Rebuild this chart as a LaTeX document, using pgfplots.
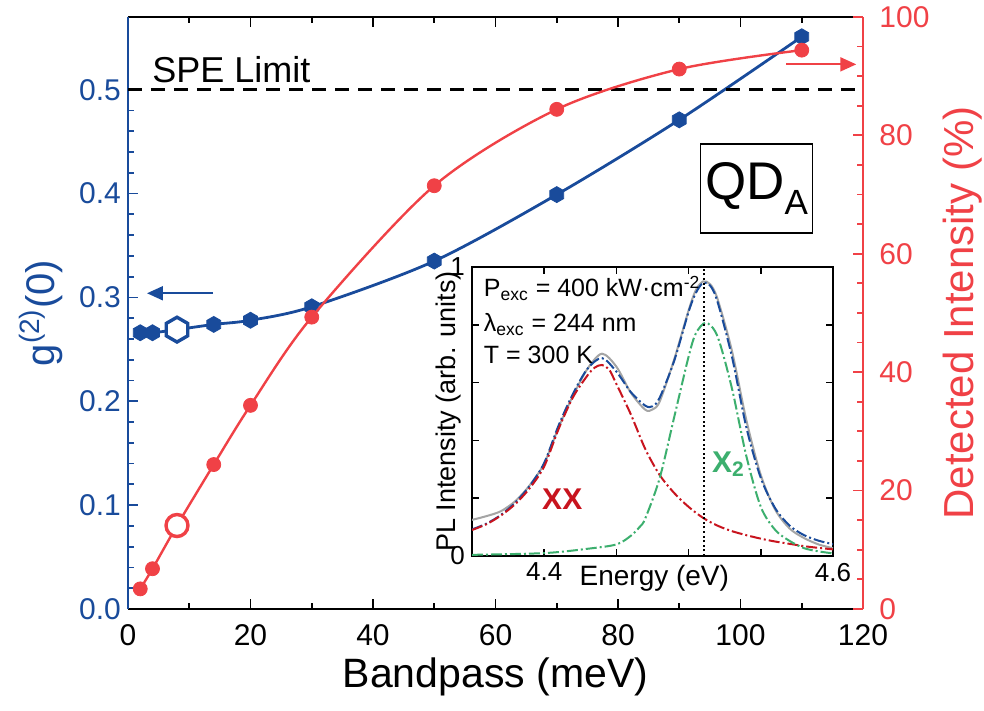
\documentclass[border=0pt]{standalone}
\usepackage{fontspec}
\setmainfont{Liberation Sans}
\usepackage{pgfplots}
\pgfplotsset{compat=1.18}
\usetikzlibrary{arrows.meta}

\definecolor{gblue}{RGB}{25,75,155}
\definecolor{ired}{RGB}{240,65,70}
\definecolor{xgreen}{RGB}{60,175,110}
\definecolor{xxred}{RGB}{200,20,30}
\definecolor{pgray}{RGB}{165,165,165}

% filled hexagon mark, pointed top and bottom
\pgfdeclareplotmark{hexagon}{%
  \pgfpathmoveto{\pgfqpointpolar{90}{\pgfplotmarksize}}%
  \pgfpathlineto{\pgfqpointpolar{150}{\pgfplotmarksize}}%
  \pgfpathlineto{\pgfqpointpolar{210}{\pgfplotmarksize}}%
  \pgfpathlineto{\pgfqpointpolar{270}{\pgfplotmarksize}}%
  \pgfpathlineto{\pgfqpointpolar{330}{\pgfplotmarksize}}%
  \pgfpathlineto{\pgfqpointpolar{30}{\pgfplotmarksize}}%
  \pgfpathclose
  \pgfusepathqfillstroke}

\newcommand{\fs}[1]{\fontsize{#1}{#1}\selectfont}

% PL spectrum and its two-peak fit
\pgfplotstableread{
E     I
4.35  0.125
4.36  0.138
4.37  0.155
4.38  0.190
4.39  0.245
4.40  0.320
4.41  0.445
4.42  0.555
4.43  0.648
4.44  0.700
4.45  0.655
4.46  0.565
4.47  0.506
4.475 0.507
4.48  0.535
4.49  0.680
4.50  0.850
4.505 0.920
4.51  0.950
4.515 0.940
4.52  0.890
4.53  0.710
4.54  0.470
4.55  0.280
4.56  0.160
4.57  0.095
4.58  0.062
4.59  0.040
4.60  0.027
}\measured

\pgfplotstableread{
E     I
4.35  0.092
4.36  0.112
4.37  0.142
4.38  0.185
4.39  0.243
4.40  0.322
4.41  0.452
4.42  0.562
4.43  0.648
4.44  0.685
4.45  0.638
4.46  0.567
4.47  0.520
4.475 0.518
4.48  0.548
4.49  0.675
4.50  0.845
4.505 0.910
4.51  0.945
4.515 0.935
4.52  0.880
4.53  0.690
4.54  0.445
4.55  0.270
4.56  0.165
4.57  0.105
4.58  0.072
4.59  0.053
4.60  0.041
}\fitsum

\pgfplotstableread{
E     I
4.35  0.090
4.36  0.110
4.37  0.140
4.38  0.180
4.39  0.235
4.40  0.310
4.41  0.440
4.42  0.550
4.43  0.625
4.435 0.652
4.44  0.661
4.445 0.645
4.45  0.595
4.46  0.490
4.47  0.370
4.48  0.280
4.49  0.218
4.50  0.170
4.51  0.132
4.52  0.105
4.53  0.086
4.54  0.072
4.55  0.060
4.56  0.050
4.57  0.042
4.58  0.034
4.59  0.028
4.60  0.023
}\peakXX

\pgfplotstableread{
E     I
4.35  0.004
4.40  0.010
4.43  0.025
4.45  0.040
4.46  0.070
4.466 0.100
4.47  0.130
4.48  0.270
4.49  0.480
4.50  0.690
4.505 0.770
4.512 0.807
4.52  0.760
4.53  0.580
4.54  0.345
4.55  0.170
4.56  0.090
4.57  0.052
4.58  0.027
4.59  0.016
4.60  0.009
}\peakX

\begin{document}
\begin{tikzpicture}
\useasboundingbox (-64pt,-51pt) rectangle (428pt,304.5pt);

% ---- g2(0) versus bandpass (left axis)
\begin{axis}[
  at={(0pt,0pt)}, anchor=south west,
  scale only axis, width=367.5pt, height=296pt,
  xmin=0, xmax=120, ymin=0, ymax=0.57,
  axis y line*=left,
  xtick={0,20,40,60,80,100,120}, minor x tick num=1,
  ytick={0,0.1,0.2,0.3,0.4,0.5}, minor y tick num=4,
  tick align=inside,
  major tick length=5pt, minor tick length=3pt,
  /pgf/number format/assume math mode=true,
  xticklabel style={font=\fs{15}, inner sep=0.5pt, yshift=-7pt},
  yticklabel style={font=\fs{15}, text=gblue, /pgf/number format/.cd, fixed, fixed zerofill, precision=1},
  x axis line style={black, line width=1pt},
  y axis line style={gblue, line width=1pt},
  xtick style={black, line width=0.9pt},
  ytick style={gblue, line width=0.9pt},
  xlabel={Bandpass (meV)},
  xlabel style={font=\fs{20.5}, at={(axis description cs:0.5,-0.115)}, anchor=center},
  ylabel={g\textsuperscript{(2)}(0)},
  ylabel style={font=\fs{20}, text=gblue, at={(axis description cs:-0.118,0.5)}, anchor=center},
  clip=false,
]
\addplot[gblue, line width=1.4pt, smooth] coordinates {
  (2,0.266) (4,0.266) (8,0.269) (14,0.274) (20,0.278) (30,0.291)
  (50,0.335) (70,0.399) (90,0.471) (110,0.551)};
\addplot[only marks, mark=hexagon, mark size=4pt, mark options={gblue, fill=gblue}] coordinates {
  (2,0.266) (4,0.266) (14,0.274) (20,0.278) (30,0.291)
  (50,0.335) (70,0.399) (90,0.471) (110,0.551)};
\addplot[only marks, mark=hexagon, mark size=6.2pt, mark options={gblue, fill=white, line width=1.7pt}] coordinates {(8,0.269)};

\draw[black, line width=1.5pt, dash pattern=on 7pt off 4.5pt] (axis cs:0,0.5) -- (axis cs:120,0.5);
\node[anchor=base west, font=\fs{18}, inner sep=0pt] at (axis cs:3.9,0.507) {SPE Limit};
\draw[gblue, line width=1pt, -{Triangle[length=8pt,width=7pt]}] (axis cs:13.9,0.304) -- (axis cs:3.1,0.304);

\node[draw, line width=0.75pt, minimum width=56pt, minimum height=44.5pt, inner sep=0pt]
  at (axis cs:102.6,0.405) {\fs{26.5}QD\raisebox{-7.5pt}{\fs{17.5}A}};
\end{axis}

% ---- detected intensity versus bandpass (right axis)
\begin{axis}[
  at={(0pt,0pt)}, anchor=south west,
  scale only axis, width=367.5pt, height=296pt,
  xmin=0, xmax=120, ymin=0, ymax=100,
  axis y line*=right, axis x line=none,
  ytick={0,20,40,60,80,100}, minor y tick num=3,
  tick align=inside,
  major tick length=5pt, minor tick length=3pt,
  /pgf/number format/assume math mode=true,
  yticklabel style={font=\fs{15}, text=ired, inner sep=0.5pt, xshift=7.5pt},
  y axis line style={ired, line width=1pt},
  ytick style={ired, line width=0.9pt},
  ylabel={Detected Intensity (\%)},
  ylabel style={font=\fs{21}, text=ired, at={(axis description cs:1.135,0.5)}, anchor=center},
  clip=false,
]
\addplot[ired, line width=1.2pt, smooth] coordinates {
  (2,3.4) (4,6.8) (8,14.1) (14,24.4) (20,34.4) (30,49.3)
  (50,71.5) (70,84.4) (90,91.2) (110,94.4)};
\addplot[only marks, mark=*, mark size=3.5pt, mark options={ired, fill=ired}] coordinates {
  (2,3.4) (4,6.8) (14,24.4) (20,34.4) (30,49.3)
  (50,71.5) (70,84.4) (90,91.2) (110,94.4)};
\addplot[only marks, mark=*, mark size=5.5pt, mark options={ired, fill=white, line width=1.7pt}] coordinates {(8,14.1)};
\draw[ired, line width=1pt, -{Triangle[length=8pt,width=7pt]}] (axis cs:107.5,92) -- (axis cs:118.9,92);
\end{axis}

% ---- inset: PL spectrum
\begin{axis}[
  at={(172pt,26.5pt)}, anchor=south west,
  scale only axis, width=180.5pt, height=144.5pt,
  xmin=4.35, xmax=4.6, ymin=0, ymax=1,
  axis background/.style={fill=white},
  xtick={4.4,4.45,4.5,4.55,4.6}, xticklabels={4.4,,,,4.6},
  ytick={0,0.2,0.4,0.6,0.8,1}, yticklabels={0,,,,,1},
  tick align=inside, major tick length=3.5pt,
  axis line style={line width=0.75pt},
  tick style={line width=0.75pt, black},
  /pgf/number format/assume math mode=true,
  ticklabel style={font=\fs{13}},
  xlabel={Energy (eV)},
  xlabel style={font=\fs{14}, at={(axis description cs:0.505,0)}, anchor=center, yshift=-11pt},
  ylabel={PL Intensity (arb. units)},
  ylabel style={font=\fs{13.5}, at={(axis description cs:-0.066,0.5)}, anchor=center},
  clip=true,
]
\addplot[pgray, line width=1pt, smooth] table[x=E, y=I] {\measured};
\addplot[gblue, line width=1pt, smooth, dash pattern=on 5.5pt off 1.5pt on 1pt off 1.5pt] table[x=E, y=I] {\fitsum};
\addplot[xxred, line width=1pt, smooth, dash pattern=on 5.5pt off 1.5pt on 1pt off 1.5pt] table[x=E, y=I] {\peakXX};
\addplot[xgreen, line width=1pt, smooth, dash pattern=on 5.5pt off 1.5pt on 1pt off 1.5pt] table[x=E, y=I] {\peakX};
\draw[black, line width=1pt, dash pattern=on 1pt off 1.3pt] (axis cs:4.511,0) -- (axis cs:4.511,1);
\node[anchor=base west, font=\fs{12.5}, inner sep=0pt] at (axis cs:4.358,0.897) {P\textsubscript{exc} = 400 kW·cm\textsuperscript{-2}};
\node[anchor=base west, font=\fs{12.5}, inner sep=0pt] at (axis cs:4.358,0.776) {λ\textsubscript{exc} = 244 nm};
\node[anchor=base west, font=\fs{12.5}, inner sep=0pt] at (axis cs:4.358,0.667) {T = 300 K};
\node[font=\fs{15}\bfseries, text=xxred] at (axis cs:4.4125,0.197) {XX};
\node[font=\fs{15}\bfseries, text=xgreen, anchor=west, inner sep=0pt] at (axis cs:4.516,0.318) {X\textsubscript{2}};
\end{axis}
\end{tikzpicture}
\end{document}
